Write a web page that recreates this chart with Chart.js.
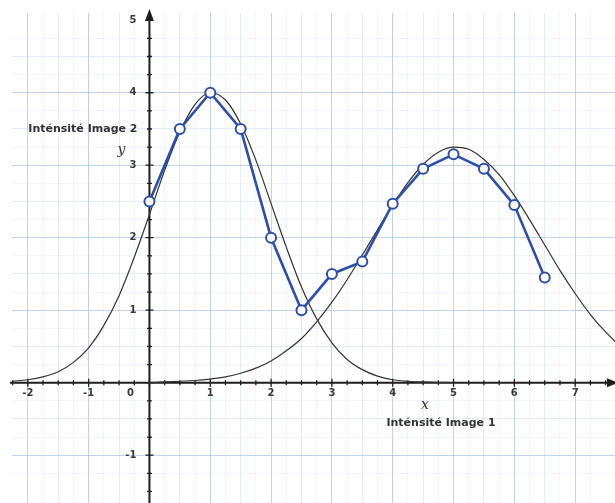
<!DOCTYPE html>
<html lang="fr">
<head>
  <meta charset="UTF-8">
  <title>Intensité Image 1 / Image 2</title>
  <script src="https://cdn.jsdelivr.net/npm/chart.js"></script>
  <style>
    html, body { margin: 0; padding: 0; background: #fff; }
    #wrap { width: 615px; height: 503px; }
  </style>
</head>
<body>
  <div id="wrap"><canvas id="myChart" width="615" height="503"></canvas></div>
  <script>
    // points mesurés (ligne bleue)
    const pointsX = [0, 0.5, 1, 1.5, 2, 2.5, 3, 3.5, 4, 4.5, 5, 5.5, 6, 6.5];
    const pointsY = [2.5, 3.5, 4.0, 3.5, 2.0, 1.0, 1.5, 1.67, 2.47, 2.95, 3.15, 2.95, 2.45, 1.45];

    // courbe noire de gauche
    const curve1X = [-2.5, -2.25, -2, -1.75, -1.5, -1.25, -1, -0.75, -0.5, -0.25, 0, 0.25, 0.5, 0.75, 1, 1.25, 1.5, 1.75, 2, 2.25, 2.5, 2.75, 3, 3.25, 3.5, 3.75, 4, 4.25, 4.5, 5];
    const curve1Y = [0.01, 0.02, 0.04, 0.08, 0.15, 0.28, 0.48, 0.79, 1.20, 1.73, 2.32, 2.93, 3.46, 3.84, 4.00, 3.90, 3.57, 3.07, 2.47, 1.87, 1.32, 0.88, 0.55, 0.32, 0.18, 0.09, 0.04, 0.02, 0.01, 0];

    // courbe noire de droite
    const curve2X = [0, 0.5, 0.75, 1, 1.25, 1.5, 1.75, 2, 2.25, 2.5, 2.75, 3, 3.25, 3.5, 3.75, 4, 4.25, 4.5, 4.75, 5, 5.25, 5.5, 5.75, 6, 6.25, 6.5, 6.75, 7, 7.25, 7.5, 7.75, 8];
    const curve2Y = [0, 0.02, 0.03, 0.05, 0.08, 0.13, 0.20, 0.30, 0.44, 0.61, 0.84, 1.11, 1.42, 1.76, 2.11, 2.45, 2.76, 3.01, 3.18, 3.25, 3.22, 3.08, 2.87, 2.58, 2.25, 1.90, 1.55, 1.23, 0.94, 0.70, 0.50, 0.35];

    const xTicks = [-2, -1, 1, 2, 3, 4, 5, 6, 7];
    const yTicks = [5, 4, 3, 2, 1, -1];

    const toXY = (xs, ys) => xs.map((v, i) => ({ x: v, y: ys[i] }));

    // axes au centre, graduations, flèches et textes
    const axesPlugin = {
      id: 'axes',
      beforeDatasetsDraw(chart) {
        const { ctx, scales: { x, y }, chartArea } = chart;
        const x0 = x.getPixelForValue(0);
        const y0 = y.getPixelForValue(0);
        ctx.save();
        ctx.strokeStyle = '#1e1e1e';
        ctx.fillStyle = '#1e1e1e';
        ctx.lineWidth = 2;

        ctx.beginPath();
        ctx.moveTo(chartArea.left - 2, y0);
        ctx.lineTo(chartArea.right - 4, y0);
        ctx.moveTo(x0, chartArea.bottom);
        ctx.lineTo(x0, chartArea.top + 4);
        ctx.stroke();

        // petites graduations
        ctx.lineWidth = 1.3;
        ctx.beginPath();
        for (let v = -2.25; v <= 7.5; v += 0.25) {
          const px = x.getPixelForValue(v);
          const len = Number.isInteger(v) ? 4 : 2.5;
          ctx.moveTo(px, y0 - len);
          ctx.lineTo(px, y0 + len);
        }
        for (let v = -1.75; v <= 4.75; v += 0.25) {
          const py = y.getPixelForValue(v);
          const len = Number.isInteger(v) ? 4 : 2.5;
          ctx.moveTo(x0 - len, py);
          ctx.lineTo(x0 + len, py);
        }
        ctx.stroke();

        // flèches
        ctx.beginPath();
        ctx.moveTo(x0, chartArea.top - 4);
        ctx.lineTo(x0 - 4.5, chartArea.top + 8);
        ctx.lineTo(x0 + 4.5, chartArea.top + 8);
        ctx.closePath();
        ctx.fill();
        ctx.beginPath();
        ctx.moveTo(chartArea.right + 3, y0);
        ctx.lineTo(chartArea.right - 8, y0 - 4.5);
        ctx.lineTo(chartArea.right - 8, y0 + 4.5);
        ctx.closePath();
        ctx.fill();

        // étiquettes des graduations
        ctx.fillStyle = '#3a3a3a';
        ctx.font = 'bold 10px "DejaVu Sans"';
        ctx.textAlign = 'center';
        ctx.textBaseline = 'top';
        xTicks.forEach(v => ctx.fillText(String(v), x.getPixelForValue(v), y0 + 6));
        ctx.fillText('0', x0 - 19, y0 + 6);
        ctx.textAlign = 'right';
        ctx.textBaseline = 'middle';
        yTicks.forEach(v => ctx.fillText(String(v), x0 - 13, y.getPixelForValue(v)));

        // titres des axes
        ctx.fillStyle = '#333333';
        ctx.font = 'bold 11px "DejaVu Sans"';
        ctx.fillText('Inténsité Image 2', x0 - 12, y.getPixelForValue(3.5));
        ctx.textAlign = 'center';
        ctx.fillText('Inténsité Image 1', 441, y0 + 40);
        ctx.font = 'italic 14px "DejaVu Serif"';
        ctx.fillText('y', x0 - 28, y.getPixelForValue(3.2));
        ctx.fillText('x', 425, y0 + 23);
        ctx.restore();
      }
    };

    const gridColor = (c) => {
      const v = c.tick.value;
      if (Math.abs(v - Math.round(v)) < 1e-6) return 'rgba(160, 188, 232, 0.65)';
      if (Math.abs(v * 2 - Math.round(v * 2)) < 1e-6) return 'rgba(180, 200, 238, 0.35)';
      if (Math.abs(v * 4 - Math.round(v * 4)) < 1e-6) return 'rgba(190, 208, 240, 0.22)';
      return 'rgba(0,0,0,0)';
    };

    new Chart(document.getElementById('myChart'), {
      type: 'line',
      data: {
        datasets: [
          {
            label: 'Points',
            data: toXY(pointsX, pointsY),
            borderColor: '#2f4fa6',
            backgroundColor: '#ffffff',
            borderWidth: 2.6,
            pointRadius: 5,
            pointBorderWidth: 2,
            pointBorderColor: '#2f4fa6',
            pointBackgroundColor: '#ffffff',
            tension: 0,
            order: 0
          },
          {
            label: 'Courbe 1',
            data: toXY(curve1X, curve1Y),
            borderColor: '#333333',
            borderWidth: 1.2,
            pointRadius: 0,
            cubicInterpolationMode: 'monotone',
            order: 1
          },
          {
            label: 'Courbe 2',
            data: toXY(curve2X, curve2Y),
            borderColor: '#333333',
            borderWidth: 1.2,
            pointRadius: 0,
            cubicInterpolationMode: 'monotone',
            order: 2
          }
        ]
      },
      options: {
        responsive: false,
        animation: false,
        layout: { autoPadding: false, padding: { left: 12, top: 13, right: 0, bottom: 0 } },
        plugins: { legend: { display: false }, tooltip: { enabled: false } },
        scales: {
          x: {
            type: 'linear',
            min: -2.26,
            max: 7.655,
            ticks: { display: false, stepSize: 0.25, autoSkip: false },
            grid: { color: gridColor, drawTicks: false, lineWidth: 1 },
            border: { display: false }
          },
          y: {
            type: 'linear',
            min: -1.66,
            max: 5.1,
            ticks: { display: false, stepSize: 0.25, autoSkip: false },
            grid: { color: gridColor, drawTicks: false, lineWidth: 1 },
            border: { display: false }
          }
        }
      },
      plugins: [axesPlugin]
    });
  </script>
</body>
</html>
